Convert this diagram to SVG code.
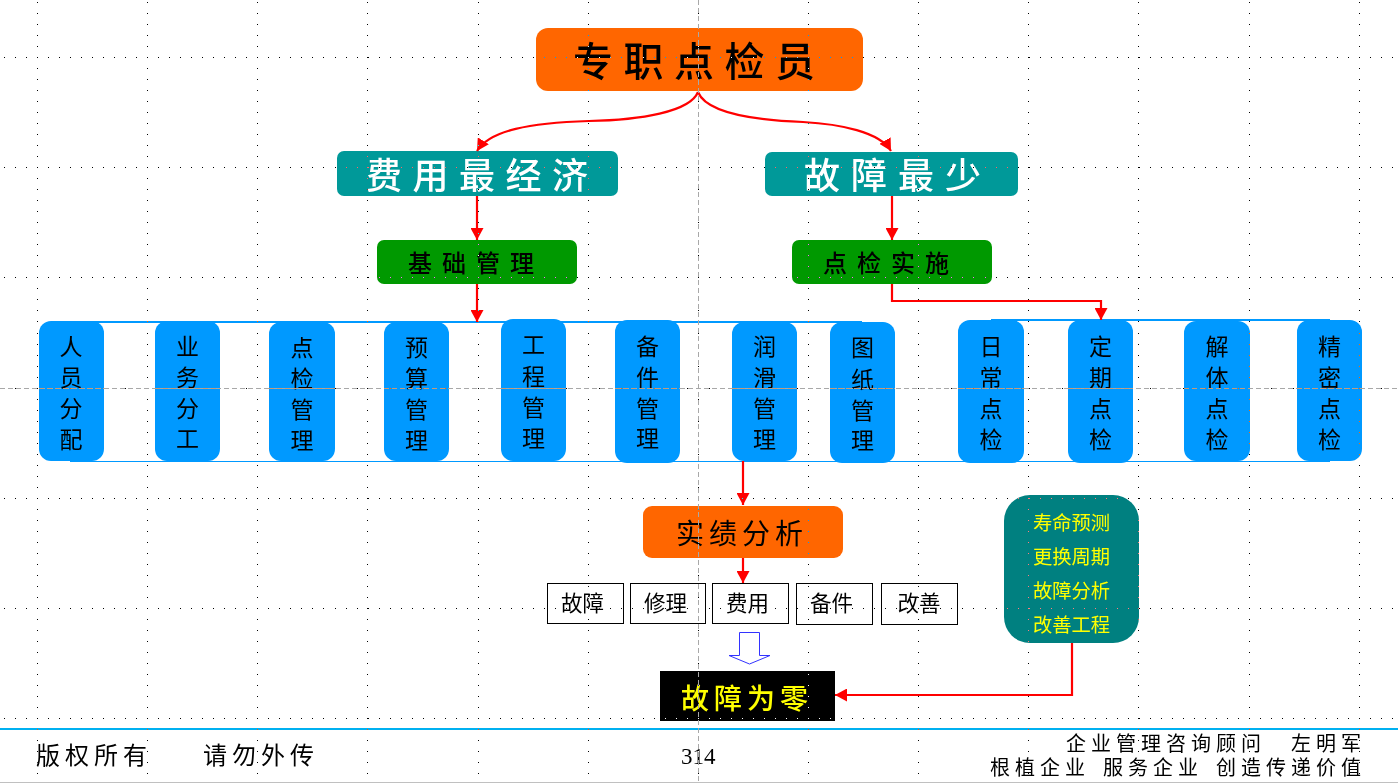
<svg xmlns="http://www.w3.org/2000/svg" width="1398" height="783" viewBox="0 0 1398 783">
<defs>
<marker id="ah" markerUnits="userSpaceOnUse" markerWidth="14" markerHeight="13" refX="12" refY="6.500" orient="auto"><path d="M0 0L12 6.500L0 13Z" fill="#ff0000"/></marker>
</defs>
<style>
text{font-family:"Noto Sans CJK SC","Liberation Sans",sans-serif;fill:#000;font-weight:400}
.strong text{font-weight:500}
.pill rect{fill:#0099ff}
.pill text{font-size:23px;text-anchor:middle}
.cell rect{fill:#fff;stroke:#000;stroke-width:1}
.cell text{font-size:21.5px}
.list text{font-size:19.3px;fill:#ffff00}
.conn path{fill:none;stroke:#ff0000;stroke-width:2.200;marker-end:url(#ah)}
.bar{fill:none;stroke:#0099ff}
.dots{mix-blend-mode:difference;fill:none;stroke:#fff;stroke-width:1;shape-rendering:crispEdges;stroke-dasharray:1 10.017}
.guide{fill:none;stroke:#a8a8a8;stroke-width:1;stroke-dasharray:5 3;shape-rendering:crispEdges}
.foot{font-size:20px}
</style>
<rect width="1398" height="783" fill="#fff"/>
<g id="footer-rules">
<rect x="0" y="728" width="1398" height="2" fill="#00b0f0"/>
<rect x="0" y="782" width="1398" height="1" fill="#c0c0c0"/>
</g>
<g id="bars">
<path class="bar" stroke-width="2" d="M72 322H862"/>
<path class="bar" stroke-width="2" d="M991 320H1330"/>
<path class="bar" stroke-width="1" stroke="#1a9be0" d="M70 461.500H1330"/>
</g>
<g id="top" class="strong"><rect x="536" y="28" width="327" height="63" rx="12" fill="#ff6600"/><text x="573" y="76" font-size="40" letter-spacing="10.500">专职点检员</text></g>
<g id="cost" class="strong"><rect x="337" y="151" width="281" height="45" rx="7" fill="#009999"/><text x="366" y="189" font-size="36" letter-spacing="10.500" style="fill:#fff">费用最经济</text></g>
<g id="fault" class="strong"><rect x="765" y="152" width="253" height="44" rx="7" fill="#009999"/><text x="804" y="189" font-size="36" letter-spacing="11" style="fill:#fff">故障最少</text></g>
<g id="base" class="strong"><rect x="377" y="240" width="200" height="44" rx="7" fill="#009900"/><text x="408" y="272" font-size="24" letter-spacing="10">基础管理</text></g>
<g id="check" class="strong"><rect x="792" y="240" width="200" height="44" rx="7" fill="#009900"/><text x="823" y="272" font-size="24" letter-spacing="10">点检实施</text></g>
<g id="p1" class="pill"><rect x="39" y="321" width="65" height="140" rx="12"/><text><tspan x="71" y="355">人</tspan><tspan x="71" y="386">员</tspan><tspan x="71" y="417">分</tspan><tspan x="71" y="448">配</tspan></text></g>
<g id="p2" class="pill"><rect x="155" y="321" width="65" height="140" rx="12"/><text><tspan x="187.500" y="355">业</tspan><tspan x="187.500" y="386">务</tspan><tspan x="187.500" y="417">分</tspan><tspan x="187.500" y="447">工</tspan></text></g>
<g id="p3" class="pill"><rect x="269" y="322" width="66" height="139" rx="12"/><text><tspan x="302" y="356">点</tspan><tspan x="302" y="387">检</tspan><tspan x="302" y="418">管</tspan><tspan x="302" y="449">理</tspan></text></g>
<g id="p4" class="pill"><rect x="384" y="322" width="65" height="139" rx="12"/><text><tspan x="416.500" y="356">预</tspan><tspan x="416.500" y="387">算</tspan><tspan x="416.500" y="418">管</tspan><tspan x="416.500" y="449">理</tspan></text></g>
<g id="p5" class="pill"><rect x="501" y="319" width="65" height="142" rx="12"/><text><tspan x="533.500" y="353">工</tspan><tspan x="533.500" y="385">程</tspan><tspan x="533.500" y="416">管</tspan><tspan x="533.500" y="447">理</tspan></text></g>
<g id="p6" class="pill"><rect x="615" y="320" width="65" height="143" rx="12"/><text><tspan x="647.500" y="355">备</tspan><tspan x="647.500" y="386">件</tspan><tspan x="647.500" y="417">管</tspan><tspan x="647.500" y="447">理</tspan></text></g>
<g id="p7" class="pill"><rect x="732" y="322" width="65" height="139" rx="12"/><text><tspan x="764.500" y="355">润</tspan><tspan x="764.500" y="386">滑</tspan><tspan x="764.500" y="417">管</tspan><tspan x="764.500" y="448">理</tspan></text></g>
<g id="p8" class="pill"><rect x="830" y="322" width="65" height="141" rx="12"/><text><tspan x="862.500" y="356">图</tspan><tspan x="862.500" y="388">纸</tspan><tspan x="862.500" y="419">管</tspan><tspan x="862.500" y="449">理</tspan></text></g>
<g id="p9" class="pill"><rect x="958" y="320" width="66" height="143" rx="12"/><text><tspan x="991" y="355">日</tspan><tspan x="991" y="386">常</tspan><tspan x="991" y="417">点</tspan><tspan x="991" y="448">检</tspan></text></g>
<g id="p10" class="pill"><rect x="1068" y="320" width="65" height="143" rx="12"/><text><tspan x="1100.500" y="355">定</tspan><tspan x="1100.500" y="386">期</tspan><tspan x="1100.500" y="417">点</tspan><tspan x="1100.500" y="448">检</tspan></text></g>
<g id="p11" class="pill"><rect x="1184" y="321" width="66" height="140" rx="12"/><text><tspan x="1217" y="355">解</tspan><tspan x="1217" y="386">体</tspan><tspan x="1217" y="417">点</tspan><tspan x="1217" y="448">检</tspan></text></g>
<g id="p12" class="pill"><rect x="1297" y="320" width="65" height="141" rx="12"/><text><tspan x="1329.500" y="355">精</tspan><tspan x="1329.500" y="386">密</tspan><tspan x="1329.500" y="417">点</tspan><tspan x="1329.500" y="448">检</tspan></text></g>
<g id="analysis"><rect x="643" y="506" width="200" height="52" rx="9" fill="#ff6600"/><text x="676" y="544" font-size="28" letter-spacing="5">实绩分析</text></g>
<g id="c1" class="cell"><rect x="547.500" y="583.500" width="76" height="40"/><text x="561" y="611">故障</text></g>
<g id="c2" class="cell"><rect x="630.500" y="583.500" width="75" height="40"/><text x="644" y="611">修理</text></g>
<g id="c3" class="cell"><rect x="712.500" y="583.500" width="76" height="40"/><text x="726" y="611">费用</text></g>
<g id="c4" class="cell"><rect x="796.500" y="583.500" width="76" height="41"/><text x="810" y="611">备件</text></g>
<g id="c5" class="cell"><rect x="881.500" y="583.500" width="76" height="41"/><text x="897.500" y="611">改善</text></g>
<g id="down"><path d="M739.500 632.500H759.500V655.500H770L749.500 664L729 655.500H739.500Z" fill="#fff" stroke="#3333ff" stroke-width="1"/></g>
<g id="zero" class="strong"><rect x="660" y="671" width="175" height="50" fill="#000"/><text x="681" y="709" font-size="28" letter-spacing="5" style="fill:#ffff00">故障为零</text></g>
<g id="list" class="list"><rect x="1004" y="495" width="135" height="148" rx="26" fill="#008080"/><text x="1033" y="530">寿命预测</text><text x="1033" y="564">更换周期</text><text x="1033" y="598">故障分析</text><text x="1033" y="632">改善工程</text></g>
<g id="connectors" class="conn">
<path d="M698 92C690 112 640 120 589 121C530 123 490 130 477 151"/>
<path d="M698 92C706 112 750 120 803 122C840 124 880 132 891 151"/>
<path d="M477 196V240"/>
<path d="M892 196V240"/>
<path d="M477 284V322"/>
<path d="M892 284V301H1101V320"/>
<path d="M743 461V505"/>
<path d="M743 558V583"/>
<path d="M1072 643V695H835"/>
</g>
<g id="footer">
<text x="36" y="764" font-size="24" letter-spacing="5">版权所有</text>
<text x="203" y="764" font-size="24" letter-spacing="5">请勿外传</text>
<text x="681" y="764" font-size="23" style="font-family:'Liberation Serif',serif">314</text>
<text class="foot" y="751"><tspan x="1066" letter-spacing="5">企业管理咨询顾问</tspan><tspan x="1291" letter-spacing="5">左明军</tspan></text>
<text class="foot" y="775"><tspan x="990" letter-spacing="5">根植企业</tspan><tspan x="1103" letter-spacing="5">服务企业</tspan><tspan x="1216" letter-spacing="5">创造传递价值</tspan></text>
</g>
<path class="dots" d="M4 57.500H1398M4 167.500H1398M4 277.500H1398M4 388.500H1398M4 498.500H1398M4 608.500H1398M4 718.500H1398M37.500 2V783M147.500 2V783M257.500 2V783M367.500 2V783M478.500 2V783M588.500 2V783M698.500 2V783M808.500 2V783M918.500 2V783M1028.500 2V783M1138.500 2V783M1249.500 2V783M1359.500 2V783"/>
<path class="guide" d="M0 388.500H1398M698.500 0V783"/>
<path class="guide" style="stroke:#c89a78" d="M39 388.500H104M155 388.500H220M269 388.500H335M384 388.500H449M501 388.500H566M615 388.500H680M732 388.500H797M830 388.500H895M958 388.500H1024M1068 388.500H1133M1184 388.500H1250M1297 388.500H1362"/>
</svg>
